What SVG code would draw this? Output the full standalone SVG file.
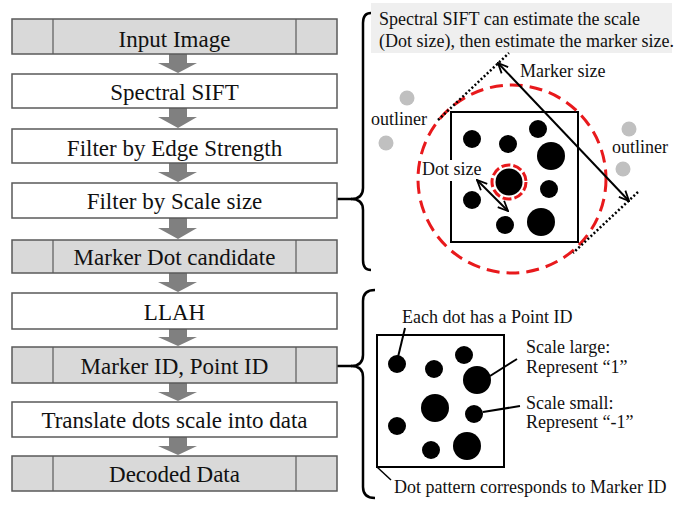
<svg xmlns="http://www.w3.org/2000/svg" width="688" height="508" viewBox="0 0 688 508">
<defs>
<style>
.box{stroke:#5a5a5a;stroke-width:1.5}
.g{fill:#d9d9d9}
.w{fill:#ffffff}
.div{stroke:#5a5a5a;stroke-width:1.2}
.t{font-family:"Liberation Serif",serif;font-size:23px;fill:#111;text-anchor:middle}
.s{font-family:"Liberation Serif",serif;font-size:18px;fill:#111}
.arr{fill:#808080}
.k{stroke:#000;fill:none}
.dot{fill:#000}
.gd{fill:#c0c0c0}
.dotted{stroke:#000;stroke-width:2.5;stroke-dasharray:2 2.2;fill:none}
.red{stroke:#e8191c;stroke-width:3;fill:none}
</style>
<marker id="ah" viewBox="0 0 12 12" refX="11" refY="6" markerWidth="12" markerHeight="12" markerUnits="userSpaceOnUse" orient="auto-start-reverse">
<path d="M1,1.5 L11,6 L1,10.5" fill="none" stroke="#000" stroke-width="1.8"/>
</marker>
</defs>
<rect width="688" height="508" fill="#fff"/>

<g id="connectors">
<path class="arr" d="M169,54 H187 V63 H197 L178,73 L158,63 H169 Z"/>
<path class="arr" d="M169,108 H187 V117 H197 L178,128 L158,117 H169 Z"/>
<path class="arr" d="M169,163 H187 V172 H197 L178,182 L158,172 H169 Z"/>
<path class="arr" d="M169,218 H187 V228 H197 L178,239 L158,228 H169 Z"/>
<path class="arr" d="M169,273 H187 V282 H197 L178,292 L158,282 H169 Z"/>
<path class="arr" d="M169,329 H187 V337 H197 L178,346 L158,337 H169 Z"/>
<path class="arr" d="M169,383 H187 V392 H197 L178,401 L158,392 H169 Z"/>
<path class="arr" d="M169,437 H187 V446 H197 L178,455 L158,446 H169 Z"/>
<line class="k" x1="337" y1="199" x2="352" y2="199" stroke-width="2.5"/>
<line class="k" x1="337" y1="366" x2="352" y2="366" stroke-width="2.5"/>
<path class="k" stroke-width="2.5" d="M371,13 Q363,13 363,23 L363,188 Q363,199 351,199 Q363,199 363,210 L363,260 Q363,270 371,270"/>
<path class="k" stroke-width="2.5" d="M375,290 Q363,290 363,301 L363,355 Q363,366 351,366 Q363,366 363,377 L363,487 Q363,498 375,498"/>
</g>

<g id="n-input">
<rect class="box g" x="12" y="19" width="325" height="35"/>
<line class="div" x1="53" y1="19" x2="53" y2="54"/><line class="div" x1="296" y1="19" x2="296" y2="54"/>
<text class="t" x="174.5" y="47">Input Image</text>
</g>
<g id="n-sift">
<rect class="box w" x="12" y="74" width="325" height="34"/>
<text class="t" x="174.5" y="100">Spectral SIFT</text>
</g>
<g id="n-edge">
<rect class="box w" x="12" y="129" width="325" height="34"/>
<text class="t" x="174.5" y="156">Filter by Edge Strength</text>
</g>
<g id="n-scale">
<rect class="box w" x="12" y="183" width="325" height="35"/>
<text class="t" x="174.5" y="209">Filter by Scale size</text>
</g>
<g id="n-cand">
<rect class="box g" x="12" y="240" width="325" height="33"/>
<line class="div" x1="53" y1="240" x2="53" y2="273"/><line class="div" x1="296" y1="240" x2="296" y2="273"/>
<text class="t" x="174.5" y="265">Marker Dot candidate</text>
</g>
<g id="n-llah">
<rect class="box w" x="12" y="293" width="325" height="36"/>
<text class="t" x="174.5" y="320">LLAH</text>
</g>
<g id="n-ids">
<rect class="box g" x="12" y="347" width="325" height="36"/>
<line class="div" x1="53" y1="347" x2="53" y2="383"/><line class="div" x1="296" y1="347" x2="296" y2="383"/>
<text class="t" x="174.5" y="374">Marker ID, Point ID</text>
</g>
<g id="n-translate">
<rect class="box w" x="12" y="402" width="325" height="35"/>
<text class="t" x="174.5" y="428">Translate dots scale into data</text>
</g>
<g id="n-decoded">
<rect class="box g" x="12" y="456" width="325" height="35"/>
<line class="div" x1="53" y1="456" x2="53" y2="491"/><line class="div" x1="296" y1="456" x2="296" y2="491"/>
<text class="t" x="174.5" y="482">Decoded Data</text>
</g>

<g id="top-panel">
<rect x="371" y="3" width="301" height="50" fill="#efefef"/>
<text class="s" x="379" y="25">Spectral SIFT can estimate the scale</text>
<text class="s" x="379" y="47">(Dot size), then estimate the marker size.</text>
<circle class="gd" cx="407" cy="98" r="7.5"/>
<circle class="gd" cx="386" cy="143" r="7.5"/>
<circle class="gd" cx="629" cy="129" r="7.5"/>
<circle class="gd" cx="623" cy="169" r="7.5"/>
<text class="s" x="371" y="125">outliner</text>
<text class="s" x="612" y="153">outliner</text>
<rect x="451" y="112" width="127" height="130" fill="none" stroke="#000" stroke-width="2"/>
<circle class="dot" cx="472" cy="139" r="9"/>
<circle class="dot" cx="508" cy="144" r="9"/>
<circle class="dot" cx="538" cy="129" r="9"/>
<circle class="dot" cx="551" cy="156" r="14"/>
<circle class="dot" cx="509" cy="182" r="13.5"/>
<circle class="dot" cx="549" cy="189" r="9"/>
<circle class="dot" cx="472" cy="200" r="9"/>
<circle class="dot" cx="505" cy="225" r="9"/>
<circle class="dot" cx="541" cy="222" r="14"/>
<circle class="red" cx="512" cy="179" r="94" stroke-dasharray="13 7"/>
<circle class="red" cx="509" cy="182" r="17" stroke-dasharray="9 3"/>
<line class="dotted" x1="438" y1="120" x2="509" y2="53"/>
<line class="dotted" x1="638" y1="192" x2="573" y2="253"/>
<line x1="498" y1="63" x2="629" y2="201" stroke="#000" stroke-width="2" marker-start="url(#ah)" marker-end="url(#ah)"/>
<text class="s" x="520" y="77">Marker size</text>
<rect x="424" y="160" width="58" height="21" fill="#fff"/>
<line x1="477" y1="180" x2="508" y2="211" stroke="#000" stroke-width="2" marker-start="url(#ah)" marker-end="url(#ah)"/>
<text class="s" x="422" y="175">Dot size</text>
</g>

<g id="bottom-panel">
<rect x="377" y="335" width="127" height="132" fill="none" stroke="#000" stroke-width="2"/>
<circle class="dot" cx="397" cy="364" r="9"/>
<circle class="dot" cx="434" cy="369" r="9"/>
<circle class="dot" cx="464" cy="355" r="9"/>
<circle class="dot" cx="477" cy="380" r="14"/>
<circle class="dot" cx="435" cy="408" r="14"/>
<circle class="dot" cx="474" cy="414" r="9"/>
<circle class="dot" cx="397" cy="426" r="9"/>
<circle class="dot" cx="431" cy="450" r="9"/>
<circle class="dot" cx="467" cy="446" r="14"/>
<line class="k" stroke-width="2" x1="405" y1="328" x2="398" y2="357"/>
<line class="k" stroke-width="2" x1="517" y1="359" x2="490" y2="376"/>
<line class="k" stroke-width="2" x1="483" y1="412" x2="520" y2="406"/>
<line class="k" stroke-width="1.5" x1="377" y1="467" x2="391" y2="480"/>
<text class="s" x="402" y="323">Each dot has a Point ID</text>
<text class="s" x="526" y="353">Scale large:</text>
<text class="s" x="526" y="373">Represent “1”</text>
<text class="s" x="526" y="409">Scale small:</text>
<text class="s" x="526" y="428">Represent “-1”</text>
<text class="s" x="394" y="493">Dot pattern corresponds to Marker ID</text>
</g>
</svg>
